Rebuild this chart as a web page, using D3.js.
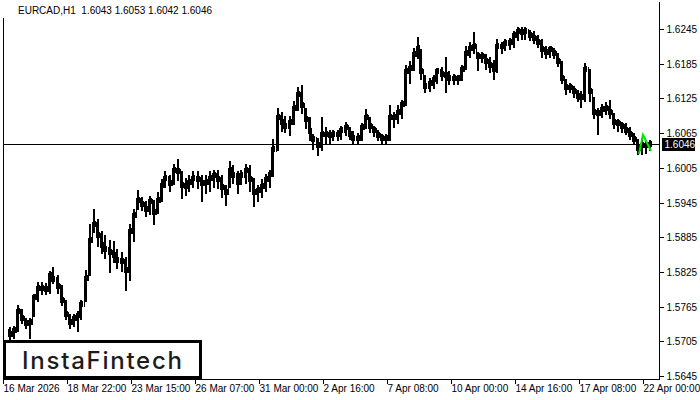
<!DOCTYPE html>
<html><head><meta charset="utf-8">
<script src="https://cdn.jsdelivr.net/npm/d3@7"></script>
<style>html,body{margin:0;padding:0;background:#fff;} svg{display:block;}</style>
</head><body><svg id="c" width="700" height="400"></svg>
<script>
// ---------- data ----------
const symbol = "EURCAD,H1";
const lastOHLC = [1.6043, 1.6053, 1.6042, 1.6046];
const firstOpen = 1.5722;
const highs = [
1.5729,1.5731,1.5767,1.5760,1.5746,1.5746,1.5786,1.5808,1.5808,1.5805,
1.5826,1.5833,1.5819,1.5803,1.5777,1.5753,1.5753,1.5757,1.5777,1.5829,
1.5907,1.5933,1.5916,1.5895,1.5888,1.5881,1.5878,1.5864,1.5860,1.5850,
1.5907,1.5933,1.5967,1.5954,1.5947,1.5957,1.5950,1.5964,1.5985,1.5999,
1.5992,1.6012,1.6021,1.5999,1.5988,1.5992,1.5999,1.5999,1.5992,1.5992,
1.5999,1.6002,1.6002,1.5992,1.5976,1.6016,1.6009,1.5999,1.6002,1.6012,
1.6009,1.5988,1.5976,1.5985,1.5995,1.6002,1.6054,1.6109,1.6102,1.6095,
1.6095,1.6120,1.6144,1.6149,1.6109,1.6092,1.6064,1.6057,1.6092,1.6075,
1.6071,1.6071,1.6071,1.6078,1.6085,1.6075,1.6068,1.6066,1.6082,1.6106,
1.6092,1.6078,1.6071,1.6064,1.6064,1.6113,1.6102,1.6113,1.6123,1.6182,
1.6189,1.6213,1.6232,1.6210,1.6165,1.6161,1.6165,1.6178,1.6180,1.6196,
1.6172,1.6168,1.6166,1.6182,1.6215,1.6223,1.6239,1.6206,1.6206,1.6201,
1.6196,1.6192,1.6227,1.6223,1.6227,1.6230,1.6241,1.6248,1.6248,1.6248,
1.6244,1.6241,1.6234,1.6227,1.6216,1.6216,1.6213,1.6203,1.6189,1.6158,
1.6151,1.6147,1.6140,1.6137,1.6187,1.6175,1.6127,1.6109,1.6116,1.6118,
1.6123,1.6099,1.6090,1.6085,1.6082,1.6075,1.6066,1.6054,1.6057,1.6052,
1.6053];
const lows = [
1.5708,1.5712,1.5725,1.5739,1.5729,1.5712,1.5751,1.5777,1.5789,1.5788,
1.5791,1.5807,1.5791,1.5769,1.5746,1.5729,1.5734,1.5725,1.5746,1.5777,
1.5821,1.5895,1.5872,1.5860,1.5850,1.5826,1.5843,1.5833,1.5829,1.5795,
1.5812,1.5881,1.5936,1.5933,1.5923,1.5926,1.5909,1.5929,1.5950,1.5974,
1.5967,1.5978,1.5985,1.5954,1.5959,1.5967,1.5974,1.5971,1.5950,1.5964,
1.5967,1.5974,1.5971,1.5957,1.5943,1.5974,1.5981,1.5964,1.5978,1.5981,
1.5967,1.5940,1.5950,1.5957,1.5967,1.5974,1.5992,1.6037,1.6071,1.6068,
1.6064,1.6082,1.6106,1.6102,1.6075,1.6054,1.6040,1.6028,1.6037,1.6050,
1.6050,1.6054,1.6054,1.6057,1.6064,1.6057,1.6050,1.6049,1.6054,1.6075,
1.6068,1.6061,1.6054,1.6050,1.6049,1.6054,1.6078,1.6085,1.6092,1.6116,
1.6154,1.6175,1.6196,1.6161,1.6137,1.6140,1.6144,1.6154,1.6158,1.6137,
1.6151,1.6151,1.6152,1.6158,1.6178,1.6199,1.6206,1.6175,1.6189,1.6178,
1.6172,1.6161,1.6172,1.6206,1.6210,1.6213,1.6216,1.6227,1.6230,1.6230,
1.6227,1.6223,1.6216,1.6199,1.6196,1.6199,1.6196,1.6182,1.6154,1.6135,
1.6137,1.6130,1.6123,1.6111,1.6123,1.6123,1.6092,1.6066,1.6095,1.6099,
1.6092,1.6076,1.6071,1.6068,1.6066,1.6057,1.6049,1.6030,1.6030,1.6033,
1.6037];
const closes = [
1.5718,1.5725,1.5757,1.5746,1.5736,1.5739,1.5781,1.5798,1.5798,1.5795,
1.5819,1.5812,1.5801,1.5777,1.5753,1.5739,1.5746,1.5750,1.5769,1.5815,
1.5881,1.5907,1.5888,1.5872,1.5864,1.5860,1.5855,1.5846,1.5843,1.5829,
1.5895,1.5924,1.5950,1.5942,1.5933,1.5947,1.5929,1.5950,1.5976,1.5988,
1.5978,1.6002,1.5999,1.5976,1.5974,1.5981,1.5988,1.5985,1.5978,1.5980,
1.5988,1.5992,1.5985,1.5971,1.5964,1.6002,1.5992,1.5981,1.5992,1.6002,
1.5985,1.5964,1.5967,1.5974,1.5985,1.5995,1.6037,1.6092,1.6085,1.6078,
1.6085,1.6109,1.6132,1.6114,1.6089,1.6068,1.6054,1.6044,1.6064,1.6063,
1.6061,1.6064,1.6064,1.6071,1.6075,1.6064,1.6057,1.6057,1.6075,1.6092,
1.6078,1.6071,1.6061,1.6057,1.6057,1.6092,1.6092,1.6102,1.6116,1.6172,
1.6178,1.6201,1.6213,1.6172,1.6147,1.6151,1.6158,1.6172,1.6168,1.6165,
1.6161,1.6161,1.6161,1.6175,1.6203,1.6213,1.6216,1.6199,1.6199,1.6189,
1.6182,1.6175,1.6216,1.6216,1.6220,1.6223,1.6234,1.6241,1.6239,1.6241,
1.6235,1.6230,1.6223,1.6210,1.6206,1.6210,1.6203,1.6189,1.6161,1.6144,
1.6144,1.6137,1.6130,1.6127,1.6175,1.6137,1.6102,1.6099,1.6106,1.6109,
1.6102,1.6085,1.6082,1.6078,1.6071,1.6064,1.6054,1.6040,1.6044,1.6044,
1.6046];
const barsPerPoint = 4;   // hours aggregated per drawn point
const firstBar = 5;       // bar index of the first drawn hour
const totalBars = 656;
const yTicks = [1.6245,1.6185,1.6125,1.6065,1.6005,1.5945,1.5885,1.5825,1.5765,1.5705,1.5645];
const xLabels = ["16 Mar 2026","18 Mar 22:00","23 Mar 15:00","26 Mar 07:00","31 Mar 00:00","2 Apr 16:00","7 Apr 08:00","10 Apr 00:00","14 Apr 16:00","17 Apr 08:00","22 Apr 00:00"];
const labelStep = 64;     // bars between time labels
const patternBars = [636, 640, 648];
const patternPrices = [1.6030, 1.6063, 1.6035];
const brand = "InstaFintech";

// ---------- drawing ----------
const svg = d3.select("#c");
const L = 3, R = 659, B = 379;
const x = d3.scaleLinear().domain([0, totalBars]).range([L, R]);
const y = d3.scaleLinear().domain([1.5645, 1.6245]).range([376.5, 29.5]);
const py = v => Math.floor(y(v)) + 0.5;
const lab = "'Liberation Sans', Arial, sans-serif";

// frame
const frame = svg.append("g").attr("stroke", "#000").attr("shape-rendering", "crispEdges");
frame.append("line").attr("x1", L + 0.5).attr("x2", L + 0.5).attr("y1", 18).attr("y2", B + 1);
frame.append("line").attr("x1", R + 0.5).attr("x2", R + 0.5).attr("y1", 2).attr("y2", B + 1);
frame.append("line").attr("x1", L).attr("x2", R + 1).attr("y1", B + 0.5).attr("y2", B + 0.5);

// bars: each drawn point covers barsPerPoint hourly columns
const data = highs.map((h, i) => ({ i, h, l: lows[i], c: closes[i], o: i ? closes[i - 1] : firstOpen }));
const x0 = d => Math.floor(x(firstBar + d.i * barsPerPoint));
const bars = svg.append("g").attr("fill", "#000").attr("shape-rendering", "crispEdges");
bars.selectAll("rect.hl").data(data).join("rect").attr("class", "hl")
  .attr("x", d => x0(d) + 1).attr("width", 2)
  .attr("y", d => Math.floor(y(d.h))).attr("height", d => Math.ceil(y(d.l)) - Math.floor(y(d.h)) + 1);
// open / close marks fill the outer columns between the high-low spans
bars.selectAll("rect.op").data(data).join("rect").attr("class", "op")
  .attr("x", d => x0(d)).attr("width", 1)
  .attr("y", d => Math.min(py(d.o), py(d.c)) - 2.5)
  .attr("height", d => Math.abs(py(d.o) - py(d.c)) + 5);
bars.selectAll("rect.cl").data(data).join("rect").attr("class", "cl")
  .attr("x", d => x0(d) + 3).attr("width", 1)
  .attr("y", d => py(d.c) - 3.5).attr("height", 6);

// current price line
svg.append("line").attr("x1", L).attr("x2", R)
  .attr("y1", py(lastOHLC[3])).attr("y2", py(lastOHLC[3]))
  .attr("stroke", "#000").attr("shape-rendering", "crispEdges");

// pattern (green)
const pts = patternBars.map((b, i) => [x(b), y(patternPrices[i])]);
svg.append("path").attr("d", d3.line()(pts)).attr("fill", "none")
  .attr("stroke", "#00e600").attr("stroke-width", 2);

// right axis
const yAx = svg.append("g").attr("transform", `translate(${R + 0.5},0)`)
  .call(d3.axisRight(y).tickValues(yTicks).tickSize(4).tickPadding(3).tickFormat(d3.format(".4f")));
yAx.select(".domain").remove();
yAx.selectAll("line").attr("shape-rendering", "crispEdges").attr("stroke", "#000");
yAx.selectAll(".tick").attr("transform", d => `translate(0,${py(d)})`);
yAx.selectAll("text").attr("font-family", lab).attr("font-size", 10).attr("fill", "#000");

// bottom axis
const xAx = svg.append("g").attr("transform", `translate(0,${B + 0.5})`)
  .call(d3.axisBottom(x).tickValues(xLabels.map((_, i) => i * labelStep)).tickSize(4)
    .tickFormat((d, i) => xLabels[i]));
xAx.select(".domain").remove();
xAx.selectAll(".tick").attr("transform", d => `translate(${Math.floor(x(d)) + 0.5},0)`);
xAx.selectAll("line").attr("shape-rendering", "crispEdges").attr("stroke", "#000");
xAx.selectAll("text").attr("font-family", lab).attr("font-size", 10)
  .attr("fill", "#000").attr("text-anchor", "start").attr("x", 0).attr("y", 12.5).attr("dy", 0);

// current price label
const cpY = py(lastOHLC[3]);
svg.append("rect").attr("x", 662).attr("y", cpY - 6.5).attr("width", 33).attr("height", 13).attr("fill", "#000");
svg.append("text").attr("x", 664.5).attr("y", cpY + 3.5).attr("fill", "#fff")
  .attr("font-family", lab).attr("font-size", 10)
  .text(d3.format(".4f")(lastOHLC[3]));

// title
svg.append("text").attr("x", 18).attr("y", 14).attr("fill", "#000")
  .attr("font-family", lab).attr("font-size", 10)
  .attr("xml:space", "preserve")
  .text(symbol + "  " + lastOHLC.map(d3.format(".4f")).join(" "));

// brand box
svg.append("rect").attr("x", 4.5).attr("y", 341.5).attr("width", 196).attr("height", 36)
  .attr("fill", "#fff").attr("stroke", "#000").attr("stroke-width", 3);
svg.append("text").attr("x", 22).attr("y", 368.5).attr("fill", "#1c1c1c")
  .attr("font-family", "Inter, Lato, sans-serif").attr("font-weight", 500).attr("font-size", 24)
  .attr("textLength", 160).attr("lengthAdjust", "spacing")
  .text(brand);
</script></body></html>
